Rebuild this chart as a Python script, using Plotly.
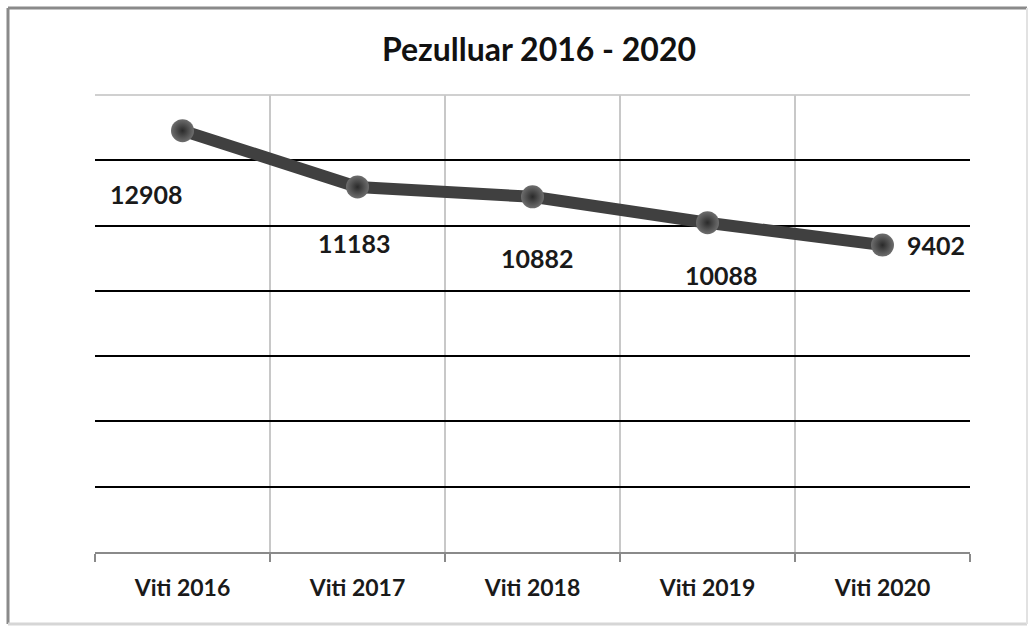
import plotly.graph_objects as go

categories = ["Viti 2016", "Viti 2017", "Viti 2018", "Viti 2019", "Viti 2020"]
values = [12908, 11183, 10882, 10088, 9402]
title_text = "Pezulluar 2016 - 2020"

# label pixel offsets (dx, dy) relative to each point
label_dx = [-36, -3, 5, 14, 53]
label_dy = [-63, -56, -61, -52, 0]

W, H = 1032, 629
L, R, T, B = 95, 62, 95, 77
pw, ph = W - L - R, H - T - B

def px(x):
    return (x - L) / pw

def py(y):
    return (H - B - y) / ph

FONT = "Lato"

fig = go.Figure()
fig.add_trace(go.Scatter(
    x=categories, y=values, mode="lines+markers",
    line=dict(color="#404040", width=12),
    marker=dict(size=23, color="#6e6e6e",
                gradient=dict(type="radial", color="#2a2a2a"),
                line=dict(width=0)),
    hoverinfo="x+y", showlegend=False,
))

for c, v, dx, dy in zip(categories, values, label_dx, label_dy):
    fig.add_annotation(x=c, y=v, text=f"<b>{v}</b>", showarrow=False,
                       xshift=dx, yshift=dy,
                       font=dict(family=FONT, size=25, color="#1a1a1a"))

shapes = []
# top border of plot area (light gray)
shapes.append(dict(type="line", xref="paper", yref="paper", x0=0, x1=1, y0=1, y1=1,
                   line=dict(color="#d0d0d0", width=2), layer="below"))
# outer frame
shapes.append(dict(type="line", xref="paper", yref="paper",
                   x0=px(8), x1=px(1027), y0=py(8), y1=py(8),
                   line=dict(color="#8a8a8a", width=3)))
shapes.append(dict(type="line", xref="paper", yref="paper",
                   x0=px(8), x1=px(8), y0=py(8), y1=py(624),
                   line=dict(color="#8a8a8a", width=3)))
shapes.append(dict(type="line", xref="paper", yref="paper",
                   x0=px(8), x1=px(1027), y0=py(624), y1=py(624),
                   line=dict(color="#d6d6d6", width=3)))
shapes.append(dict(type="line", xref="paper", yref="paper",
                   x0=px(1027), x1=px(1027), y0=py(8), y1=py(624),
                   line=dict(color="#e2e2e2", width=2)))

fig.update_layout(
    width=W, height=H,
    margin=dict(l=L, r=R, t=T, b=B),
    paper_bgcolor="white", plot_bgcolor="white",
    title=dict(text=f"<b>{title_text}</b>", x=px(552), xanchor="center",
               y=1 - 50 / H, yanchor="middle",
               font=dict(family=FONT, size=32, color="#111111")),
    shapes=shapes,
    xaxis=dict(
        type="category", tickson="boundaries", showgrid=True,
        gridcolor="#c8c8c8", gridwidth=1.5,
        ticks="outside", ticklen=8, tickcolor="#8a8a8a", tickwidth=1.5,
        showline=True, linecolor="#8a8a8a", linewidth=2,
        tickfont=dict(family=FONT, size=23, color="#1a1a1a"),
        ticklabelstandoff=14, range=[-0.5, 4.5], zeroline=False,
    ),
    yaxis=dict(
        range=[0, 14000], tickvals=[2000, 4000, 6000, 8000, 10000, 12000],
        showticklabels=False, showgrid=True, gridcolor="#000000", gridwidth=2,
        zeroline=False, showline=False, ticks="",
    ),
)
fig.update_xaxes(tickprefix="<b>", ticksuffix="</b>")

fig.write_html("out.html", config={"displayModeBar": False},
               post_script="document.body.style.margin='0';")
